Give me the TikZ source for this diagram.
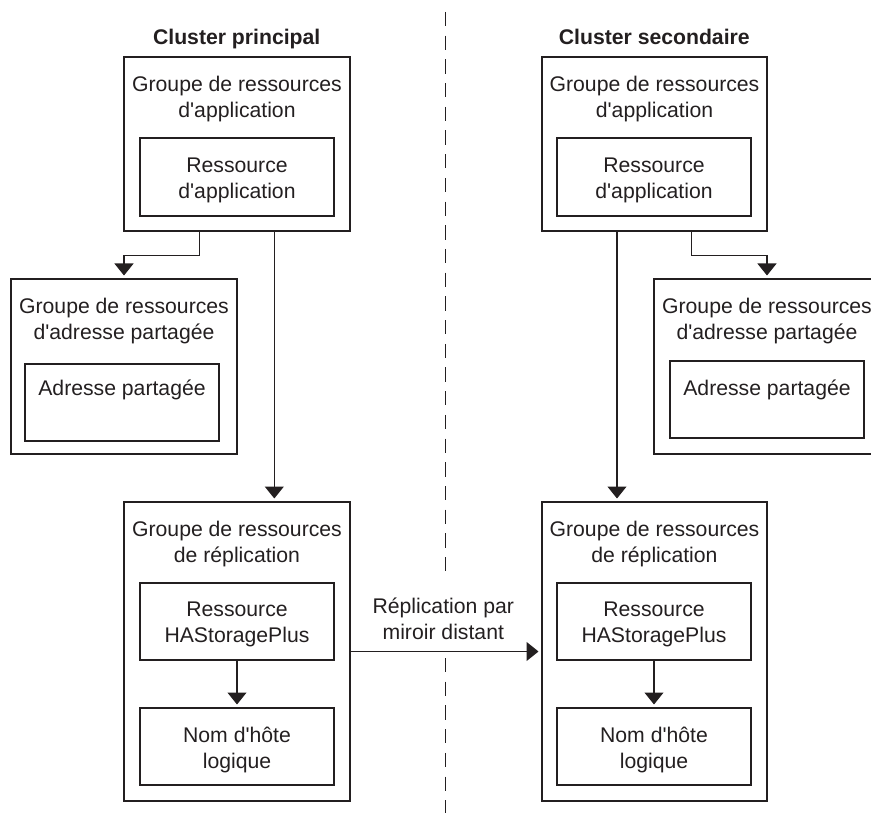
\documentclass[tikz,border=0pt]{standalone}
\usepackage{fontspec}
\setmainfont{Liberation Sans}
\usetikzlibrary{arrows.meta,calc}
\definecolor{ink}{RGB}{35,31,32}
% straight typewriter apostrophe, as printed in the labels
\newcommand\aposq{\textquotesingle}
\begin{document}
\begin{tikzpicture}[x=1pt,y=-1pt,
  every node/.style={inner sep=0pt,outer sep=0pt},
  frame/.style={draw=ink,line width=1.2pt,rectangle,inner sep=0pt},
  txt/.style={text=ink,font=\fontsize{21.2}{26}\selectfont,align=center,anchor=north},
  head/.style={txt,font=\fontsize{21.2}{26}\selectfont\bfseries},
  arr/.style={draw=ink,line width=1.2pt,-{Triangle[width=19pt,length=12pt]},shorten >=3.5pt},
  sepline/.style={draw=ink,line width=1.2pt,dash pattern=on 14.3pt off 9.4pt}]
\clip (0,0) rectangle (871,813);

% separator between the two clusters
\coordinate (sepTop) at (445.7,12);
\coordinate (sepA) at (445.7,578);
\coordinate (sepB) at (445.7,658);
\coordinate (sepBot) at (445.7,813);
\draw[sepline] (sepTop) -- (sepA);
\draw[sepline] (sepB) -- (sepBot);

% titles
\node[head] (titleL) at (236.7,29) {Cluster principal};
\node[head] (titleR) at (654.3,29) {Cluster secondaire};

% primary cluster
\node[frame,minimum width=226pt,minimum height=174pt] (appL) at (237,144) {};
\node[frame,minimum width=194pt,minimum height=78pt] (inAppL) at (237,177) {};
\node[frame,minimum width=226pt,minimum height=175pt] (shL) at (124,366.5) {};
\node[frame,minimum width=194pt,minimum height=77pt] (inShL) at (122,402.5) {};
\node[frame,minimum width=226pt,minimum height=299pt] (repL) at (237,651.5) {};
\node[frame,minimum width=194pt,minimum height=77pt] (hasL) at (237,621.5) {};
\node[frame,minimum width=194pt,minimum height=77pt] (nomL) at (237,746.5) {};

\node[txt] (tAppL) at ([yshift=-19pt]appL.north) {Groupe de ressources\\d\aposq application};
\node[txt] (tInAppL) at ([yshift=-20pt]inAppL.north) {Ressource\\d\aposq application};
\node[txt] (tShL) at ([yshift=-19pt]shL.north) {Groupe de ressources\\d\aposq adresse partagée};
\node[txt] (tInShL) at ([yshift=-16pt]inShL.north) {Adresse partagée};
\node[txt] (tRepL) at ([yshift=-19pt]repL.north) {Groupe de ressources\\de réplication};
\node[txt] (tHasL) at ([yshift=-19.4pt]hasL.north) {Ressource\\HAStoragePlus};
\node[txt] (tNomL) at ([yshift=-19.4pt]nomL.north) {Nom d\aposq hôte\\logique};

% secondary cluster
\node[frame,minimum width=225pt,minimum height=174pt] (appR) at (654.5,144) {};
\node[frame,minimum width=194pt,minimum height=78pt] (inAppR) at (654,177) {};
\node[frame,minimum width=226pt,minimum height=175pt] (shR) at (767,366.5) {};
\node[frame,minimum width=194pt,minimum height=77pt] (inShR) at (767,399.5) {};
\node[frame,minimum width=225pt,minimum height=299pt] (repR) at (654.5,651.5) {};
\node[frame,minimum width=194pt,minimum height=77pt] (hasR) at (654,621.5) {};
\node[frame,minimum width=194pt,minimum height=77pt] (nomR) at (654,746.5) {};

\node[txt] (tAppR) at ([yshift=-19pt]appR.north) {Groupe de ressources\\d\aposq application};
\node[txt] (tInAppR) at ([yshift=-20pt]inAppR.north) {Ressource\\d\aposq application};
\node[txt] (tShR) at ([yshift=-19pt]shR.north) {Groupe de ressources\\d\aposq adresse partagée};
\node[txt] (tInShR) at ([yshift=-19pt]inShR.north) {Adresse partagée};
\node[txt] (tRepR) at ([yshift=-19pt]repR.north) {Groupe de ressources\\de réplication};
\node[txt] (tHasR) at ([yshift=-19.4pt]hasR.north) {Ressource\\HAStoragePlus};
\node[txt] (tNomR) at ([yshift=-19.4pt]nomR.north) {Nom d\aposq hôte\\logique};

% dependencies
\coordinate (kneeL) at (199.3,255.7);
\coordinate (dropL) at (274.3,0);
\coordinate (kneeR) at (691.7,255.7);
\coordinate (dropR) at (617,0);
\draw[arr] (appL.south -| kneeL) -- (kneeL) -| (shL.north);
\draw[arr] (appL.south -| dropL) -- (repL.north -| dropL);
\draw[arr] (hasL) -- (nomL);
\draw[arr] (appR.south -| kneeR) -- (kneeR) -| (shR.north);
\draw[arr] (appR.south -| dropR) -- (repR.north -| dropR);
\draw[arr] (hasR) -- (nomR);

% replication link
\node[txt] (tLink) at (443.3,598.3) {Réplication par\\miroir distant};
\draw[arr] (repL.east) -- (repR.west);
\end{tikzpicture}
\end{document}
